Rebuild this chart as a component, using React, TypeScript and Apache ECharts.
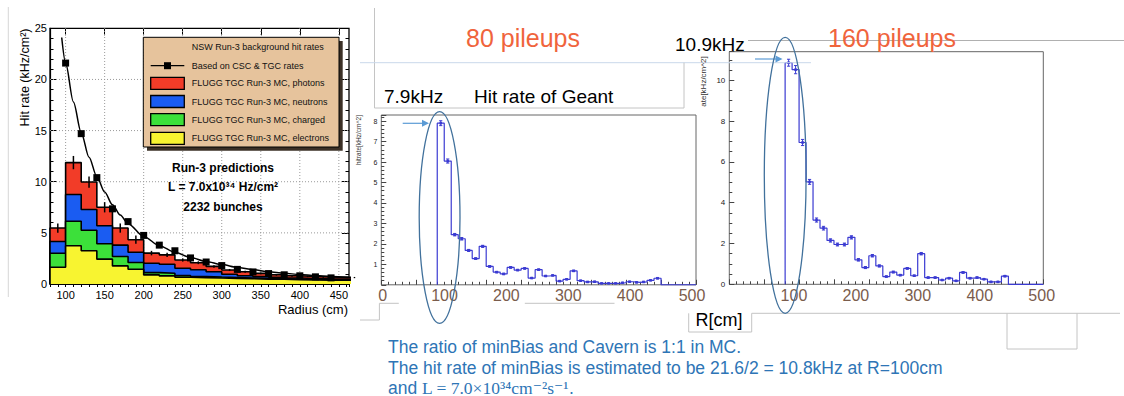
import { useEffect, useRef } from 'react';
import * as echarts from 'echarts';

const SANS = '"Liberation Sans", Arial, Helvetica, sans-serif';
const SERIF = '"Liberation Serif", "DejaVu Serif", serif';

// ---------- Left panel: NSW Run-3 background hit rates ----------
const leftBinStarts = [80, 100, 120, 140, 160, 180, 200, 220, 240, 260, 280, 300, 320, 340, 360, 380, 400, 420, 440, 460];
const leftBinWidth = 20;
const electrons = [1.64, 3.74, 3.25, 2.43, 1.77, 1.44, 0.89, 0.79, 0.66, 0.62, 0.58, 0.55, 0.52, 0.48, 0.46, 0.42, 0.40, 0.38, 0.37, 0.36];
const charged = [1.36, 2.39, 2.0, 1.5, 0.92, 0.66, 0.22, 0.26, 0.16, 0.12, 0.10, 0.08, 0.06, 0.05, 0.04, 0.04, 0.04, 0.04, 0.03, 0.03];
const neutrons = [1.16, 2.62, 2.03, 1.77, 1.11, 1.0, 0.92, 0.88, 0.72, 0.66, 0.52, 0.32, 0.22, 0.19, 0.15, 0.12, 0.10, 0.08, 0.08, 0.07];
const photons = [1.31, 3.12, 2.69, 1.8, 1.67, 1.23, 0.99, 0.92, 0.81, 0.68, 0.52, 0.42, 0.40, 0.32, 0.25, 0.22, 0.20, 0.18, 0.17, 0.17];
const totalErr = [0.45, 0.65, 0.55, 0.5, 0.45, 0.4, 0.22, 0.2, 0.16, 0.14, 0.12, 0.1, 0.1, 0.09, 0.08, 0.08, 0.07, 0.07, 0.06, 0.06];

const cscTgcR = [100, 120, 140, 160, 180, 200, 220, 240, 260, 280, 300, 320, 340, 360, 380, 400, 420, 440];
const cscTgcRate = [21.6, 14.7, 10.4, 7.35, 6.1, 4.75, 3.8, 3.25, 2.55, 2.15, 1.8, 1.43, 1.18, 1.02, 0.9, 0.8, 0.7, 0.6];
const fitR = [95, 100, 110, 120, 130, 140, 150, 160, 170, 180, 200, 220, 240, 260, 280, 300, 320, 340, 360, 380, 400, 420, 440, 463];
const fitRate = [24.1, 21.6, 17.8, 14.8, 12.4, 10.5, 9.0, 7.75, 6.75, 5.9, 4.65, 3.75, 3.1, 2.6, 2.2, 1.9, 1.62, 1.4, 1.2, 1.05, 0.93, 0.83, 0.74, 0.66];

const leftXMin = 80;
const leftXMax = 463;
const leftYMax = 25;
const leftXTicks = [100, 150, 200, 250, 300, 350, 400, 450];
const leftYGrid = [5, 10, 15, 20];

const legendTitle = 'NSW Run-3 background hit rates';
const legendLabels = [
  'Based on CSC & TGC rates',
  'FLUGG TGC Run-3 MC, photons',
  'FLUGG TGC Run-3 MC, neutrons',
  'FLUGG TGC Run-3 MC, charged',
  'FLUGG TGC Run-3 MC, electrons',
];
const layerColors = ['#f23c28', '#1a5cf2', '#3ce03a', '#f8f430'];
const predictionLines = ['Run-3 predictions', 'L = 7.0x10³⁴ Hz/cm²', '2232 bunches'];

// ---------- Geant hit rate, 10 cm bins ----------
const geantBinStarts = [80, 90, 100, 110, 120, 130, 140, 150, 160, 170, 180, 190, 200, 210, 220, 230, 240, 250, 260, 270, 280, 290, 300, 310, 320, 330, 340, 350, 360, 370, 380, 390];
const geantBinWidth = 10;
const rate80 = [7.9, 6.05, 2.45, 2.25, 1.68, 1.28, 1.88, 0.9, 0.62, 0.53, 0.85, 0.72, 0.8, 0.33, 0.74, 0.43, 0.46, 0.18, 0.27, 0.68, 0.2, 0.14, 0.15, 0.07, 0.07, 0.07, 0.1, 0.15, 0.12, 0.14, 0.22, 0.32];
const err80 = [0.12, 0.1, 0.06, 0.06, 0.05, 0.04, 0.05, 0.04, 0.03, 0.03, 0.04, 0.03, 0.03, 0.02, 0.03, 0.02, 0.02, 0.02, 0.02, 0.03, 0.02, 0.02, 0.02, 0.01, 0.01, 0.01, 0.01, 0.02, 0.02, 0.02, 0.02, 0.03];
const rate160 = [10.86, 10.52, 6.95, 5.02, 3.15, 2.75, 2.15, 1.95, 1.95, 2.3, 1.2, 0.82, 1.4, 0.9, 0.38, 0.6, 0.45, 0.78, 0.42, 1.5, 0.33, 0.33, 0.21, 0.3, 0.17, 0.58, 0.3, 0.33, 0.25, 0.12, 0.12, 0.4];
const err160 = [0.17, 0.2, 0.15, 0.12, 0.1, 0.09, 0.08, 0.07, 0.07, 0.08, 0.06, 0.05, 0.06, 0.05, 0.03, 0.04, 0.03, 0.04, 0.03, 0.06, 0.03, 0.03, 0.02, 0.03, 0.02, 0.04, 0.03, 0.03, 0.02, 0.02, 0.02, 0.03];
const geantXMax = 450;
const y80Max = 8.3;
const y160Max = 11.4;
const rLabels = [0, 100, 200, 300, 400, 500];

const noteLines = [
  'The ratio of minBias and Cavern is 1:1 in MC.',
  'The hit rate of minBias is estimated to be 21.6/2 = 10.8kHz at R=100cm',
];

const HIST_BLUE = '#3b3bd2';
const NOTE_BLUE = '#2e75b6';
const OFFICE_OUTLINE = '#41719c';
const SLIDE_GRAY = '#c4c4c4';

// step outline of a histogram given bin starts / contents
function stepPoints(starts: number[], width: number, values: number[], tailTo?: number) {
  const pts: number[][] = [[starts[0], 0]];
  starts.forEach((s, i) => pts.push([s, values[i]]));
  const end = starts[starts.length - 1] + width;
  pts.push([end, values[values.length - 1]]);
  pts.push([end, 0]);
  if (tailTo != null) pts.push([tailTo, 0]);
  return pts;
}

function errorBarRender(color: string, capHalf: number, marker: boolean, lw: number) {
  return (_p: any, api: any) => {
    const x = api.value(0);
    const y = api.value(1);
    const e = api.value(2);
    const top = api.coord([x, y + e]);
    const bot = api.coord([x, y - e]);
    const mid = api.coord([x, y]);
    const children: any[] = [
      { type: 'line', shape: { x1: top[0], y1: top[1], x2: bot[0], y2: bot[1] }, style: { stroke: color, lineWidth: lw } },
    ];
    if (capHalf > 0) {
      children.push({ type: 'line', shape: { x1: top[0] - capHalf, y1: top[1], x2: top[0] + capHalf, y2: top[1] }, style: { stroke: color, lineWidth: 1 } });
      children.push({ type: 'line', shape: { x1: bot[0] - capHalf, y1: bot[1], x2: bot[0] + capHalf, y2: bot[1] }, style: { stroke: color, lineWidth: 1 } });
    }
    if (marker) {
      children.push({ type: 'rect', shape: { x: mid[0] - 1.3, y: mid[1] - 1.3, width: 2.6, height: 2.6 }, style: { fill: color } });
    }
    return { type: 'group', children };
  };
}

function txt(x: number, y: number, text: string, o: any = {}) {
  return {
    type: 'text',
    x,
    y,
    rotation: o.rotation || 0,
    z: 60,
    style: {
      text,
      fill: o.fill || '#000',
      fontSize: o.size || 12,
      fontFamily: o.family || SANS,
      fontWeight: o.weight || 'normal',
      align: o.align || 'left',
      verticalAlign: o.va || 'middle',
      rich: o.rich,
    },
  };
}

function ln(x1: number, y1: number, x2: number, y2: number, stroke = SLIDE_GRAY, w = 1) {
  return { type: 'line', z: 55, silent: true, shape: { x1, y1, x2, y2 }, style: { stroke, lineWidth: w } };
}

function arrow(x1: number, x2: number, y: number) {
  return [
    ln(x1, y, x2 - 6, y, '#5b9bd5', 1.2),
    { type: 'polygon', z: 56, shape: { points: [[x2, y], [x2 - 7, y - 3.5], [x2 - 7, y + 3.5]] }, style: { fill: '#5b9bd5' } },
  ];
}

function buildOption() {
  // cumulative layer tops for the stacked FLUGG histogram
  const cumYellow = electrons.slice();
  const cumGreen = electrons.map((v, i) => v + charged[i]);
  const cumBlue = cumGreen.map((v, i) => v + neutrons[i]);
  const cumRed = cumBlue.map((v, i) => v + photons[i]);
  const layers = [cumRed, cumBlue, cumGreen, cumYellow];

  const leftAxisFont = { fontSize: 11, color: '#000', fontFamily: SANS };
  const blackLine = { color: '#000', width: 1 };

  const xAxis: any[] = [
    // left panel: 10 cm ticks, labels every 50
    {
      gridIndex: 0, type: 'value', position: 'bottom', min: leftXMin, max: leftXMax, interval: 10,
      axisLine: { show: true, lineStyle: { color: '#000', width: 1.2 } },
      axisTick: { inside: true, length: 3, lineStyle: blackLine },
      axisLabel: { ...leftAxisFont, margin: 5, formatter: (v: number) => (leftXTicks.includes(v) ? String(v) : '') },
      splitLine: { show: false },
    },
    {
      gridIndex: 0, type: 'value', position: 'top', min: leftXMin, max: leftXMax, interval: 10,
      axisLine: { show: false }, axisTick: { inside: true, length: 3, lineStyle: blackLine },
      axisLabel: { show: false }, splitLine: { show: false },
    },
    {
      gridIndex: 0, type: 'value', position: 'bottom', min: leftXMin, max: leftXMax,
      axisLine: { show: false }, axisTick: { inside: true, length: 7, lineStyle: blackLine, customValues: leftXTicks },
      axisLabel: { show: false }, splitLine: { show: false },
    },
    {
      gridIndex: 0, type: 'value', position: 'top', min: leftXMin, max: leftXMax,
      axisLine: { show: false }, axisTick: { inside: true, length: 7, lineStyle: blackLine, customValues: leftXTicks },
      axisLabel: { show: false }, splitLine: { show: false },
    },
    // Geant panels (ROOT axes, labels overlaid separately)
    {
      gridIndex: 1, type: 'value', min: 0, max: geantXMax, interval: 50,
      axisLine: { show: false }, axisTick: { inside: true, length: 5, lineStyle: { color: '#444' } },
      minorTick: { show: true, splitNumber: 5, length: 3, lineStyle: { color: '#444' } },
      axisLabel: { show: false }, splitLine: { show: false },
    },
    {
      gridIndex: 2, type: 'value', min: 0, max: geantXMax, interval: 50,
      axisLine: { show: false }, axisTick: { inside: true, length: 5, lineStyle: { color: '#444' } },
      minorTick: { show: true, splitNumber: 5, length: 3, lineStyle: { color: '#444' } },
      axisLabel: { show: false }, splitLine: { show: false },
    },
    {
      gridIndex: 3, type: 'value', min: 0, max: 500, interval: 100,
      axisLine: { show: false }, axisTick: { show: false }, splitLine: { show: false },
      axisLabel: { fontSize: 16, color: '#7a5c4c', fontFamily: SANS, margin: 3, formatter: (v: number) => (rLabels.includes(v) ? String(v) : '') },
    },
    {
      gridIndex: 4, type: 'value', min: 0, max: 500, interval: 100,
      axisLine: { show: false }, axisTick: { show: false }, splitLine: { show: false },
      axisLabel: { fontSize: 16, color: '#7a5c4c', fontFamily: SANS, margin: 3, formatter: (v: number) => (v > 0 && rLabels.includes(v) ? String(v) : '') },
    },
  ];

  const yAxis: any[] = [
    {
      gridIndex: 0, type: 'value', position: 'left', min: 0, max: leftYMax, interval: 5,
      axisLine: { show: true, lineStyle: { color: '#000', width: 1.2 } },
      axisTick: { inside: true, length: 7, lineStyle: blackLine },
      minorTick: { show: true, splitNumber: 5, length: 3.5, lineStyle: blackLine },
      axisLabel: { ...leftAxisFont, margin: 3 },
      splitLine: { show: false },
    },
    {
      gridIndex: 0, type: 'value', position: 'right', min: 0, max: leftYMax, interval: 5,
      axisLine: { show: false },
      axisTick: { inside: true, length: 7, lineStyle: blackLine },
      minorTick: { show: true, splitNumber: 5, length: 3.5, lineStyle: blackLine },
      axisLabel: { show: false }, splitLine: { show: false },
    },
    {
      gridIndex: 1, type: 'value', min: 0, max: y80Max, interval: 1,
      axisLine: { show: false },
      axisTick: { inside: true, length: 5, lineStyle: { color: '#444' } },
      minorTick: { show: true, splitNumber: 5, length: 3, lineStyle: { color: '#444' } },
      axisLabel: { fontSize: 7, color: '#222', fontFamily: SANS, margin: 4, formatter: (v: number) => (Number.isInteger(v) && v >= 1 && v <= 8 ? String(v) : '') },
      splitLine: { show: false },
    },
    {
      gridIndex: 2, type: 'value', min: 0, max: y160Max, interval: 2,
      axisLine: { show: false },
      axisTick: { inside: true, length: 5, lineStyle: { color: '#444' } },
      minorTick: { show: true, splitNumber: 4, length: 3, lineStyle: { color: '#444' } },
      axisLabel: { fontSize: 8, color: '#222', fontFamily: SANS, margin: 4, formatter: (v: number) => (Number.isInteger(v) && v <= 10 ? String(v) : '') },
      splitLine: { show: false },
    },
    { gridIndex: 3, type: 'value', show: false, min: 0, max: 1 },
    { gridIndex: 4, type: 'value', show: false, min: 0, max: 1 },
  ];

  const gridLineStyle = { stroke: '#9a9a9a', lineWidth: 1, lineDash: [1, 2] };
  const series: any[] = [
    {
      type: 'custom', name: 'gridX', xAxisIndex: 0, yAxisIndex: 0, z: 1, silent: true,
      data: leftXTicks.map((v) => [v, 0]),
      renderItem: (_p: any, api: any) => {
        const v = api.value(0);
        const a = api.coord([v, 0]);
        const b = api.coord([v, leftYMax]);
        return { type: 'line', shape: { x1: a[0], y1: a[1], x2: b[0], y2: b[1] }, style: gridLineStyle };
      },
    },
    {
      type: 'custom', name: 'gridY', xAxisIndex: 0, yAxisIndex: 0, z: 1, silent: true,
      data: leftYGrid.map((v) => [leftXMin, v]),
      renderItem: (_p: any, api: any) => {
        const v = api.value(1);
        const a = api.coord([leftXMin, v]);
        const b = api.coord([leftXMax, v]);
        return { type: 'line', shape: { x1: a[0], y1: a[1], x2: b[0], y2: b[1] }, style: gridLineStyle };
      },
    },
  ];

  layers.forEach((vals, i) => {
    series.push({
      type: 'line',
      name: legendLabels[i + 1],
      xAxisIndex: 0, yAxisIndex: 0,
      z: 2 + i,
      step: 'end',
      symbol: 'none',
      clip: true,
      data: stepPoints(leftBinStarts, leftBinWidth, vals),
      lineStyle: { color: '#000', width: 1.6 },
      areaStyle: { color: layerColors[i], opacity: 1 },
    });
  });

  series.push({
    type: 'custom', name: 'FLUGG total error', xAxisIndex: 0, yAxisIndex: 0, z: 7,
    data: leftBinStarts.map((s, i) => [s + leftBinWidth / 2, cumRed[i], totalErr[i]]),
    renderItem: errorBarRender('#000', 0, false, 1.5),
  });
  series.push({
    type: 'line', name: legendLabels[0] + ' fit', xAxisIndex: 0, yAxisIndex: 0, z: 8,
    data: fitR.map((r, i) => [r, fitRate[i]]),
    smooth: 0.3, smoothMonotone: 'x', symbol: 'none', clip: true,
    lineStyle: { color: '#000', width: 1.5 },
  });
  series.push({
    type: 'scatter', name: legendLabels[0], xAxisIndex: 0, yAxisIndex: 0, z: 9,
    data: cscTgcR.map((r, i) => [r, cscTgcRate[i]]),
    symbol: 'rect', symbolSize: 7,
    itemStyle: { color: '#000', opacity: 1 },
  });

  // Geant histograms
  const geantSets = [
    { name: '80 pileups', xi: 4, yi: 2, vals: rate80, errs: err80 },
    { name: '160 pileups', xi: 5, yi: 3, vals: rate160, errs: err160 },
  ];
  geantSets.forEach((g) => {
    series.push({
      type: 'line', name: g.name, xAxisIndex: g.xi, yAxisIndex: g.yi, z: 3,
      step: 'end', symbol: 'none',
      data: stepPoints(geantBinStarts, geantBinWidth, g.vals, geantXMax),
      lineStyle: { color: HIST_BLUE, width: 1.2 },
    });
    series.push({
      type: 'custom', name: g.name + ' error', xAxisIndex: g.xi, yAxisIndex: g.yi, z: 4,
      data: geantBinStarts.map((s, i) => [s + geantBinWidth / 2, g.vals[i], g.errs[i]]),
      renderItem: errorBarRender(HIST_BLUE, 1.6, true, 1),
    });
  });

  // ---------- annotations ----------
  const graphic: any[] = [];
  // slide frame fragments
  graphic.push(ln(8.3, 7, 8.3, 297, '#d6d6d6'));
  graphic.push(ln(374.5, 8, 374.5, 108));
  graphic.push(ln(360, 62.7, 811, 62.7, '#c9d8ea'));
  graphic.push(ln(374.5, 108, 684, 108));
  graphic.push(ln(684, 62.7, 684, 108));
  graphic.push(ln(748, 40.5, 1124, 40.5, '#b0b0b0'));
  graphic.push(ln(360, 320, 379.4, 320));
  graphic.push(ln(379.4, 320, 379.4, 303.3));
  graphic.push(ln(379.4, 303.3, 398.8, 303.3));
  graphic.push(ln(524.8, 303.3, 614.5, 303.3));
  graphic.push(ln(688.7, 313.3, 688.7, 332));
  graphic.push(ln(688.7, 332, 751.7, 332));
  graphic.push(ln(751.7, 313.3, 751.7, 332));
  graphic.push(ln(751.7, 313.3, 1120, 313.3));
  graphic.push(ln(1007, 313.3, 1007, 349));
  graphic.push(ln(1007, 349, 1077, 349));
  graphic.push(ln(1077, 313.3, 1077, 349));

  // left panel titles
  graphic.push(txt(25, 28.5, 'Hit rate (kHz/cm²)', { rotation: Math.PI / 2, align: 'right', size: 12.5 }));
  graphic.push(txt(348, 309, 'Radius (cm)', { align: 'right', size: 13 }));

  // legend box
  graphic.push({ type: 'rect', z: 50, shape: { x: 147, y: 41, width: 195.7, height: 109.7 }, style: { fill: '#3b3026' } });
  graphic.push({ type: 'rect', z: 51, shape: { x: 143.3, y: 37.3, width: 195.7, height: 109.7 }, style: { fill: '#e6c39c', stroke: '#000', lineWidth: 1 } });
  graphic.push(txt(191.7, 47, legendTitle, { size: 9, fill: '#111' }));
  const legendY = [65.7, 83.3, 101.5, 119.7, 138.3];
  graphic.push(ln(150.7, legendY[0], 184.3, legendY[0], '#000', 1.2));
  graphic.push({ type: 'rect', z: 58, shape: { x: 167.5 - 3.5, y: legendY[0] - 3.5, width: 7, height: 7 }, style: { fill: '#000' } });
  legendLabels.forEach((label, i) => {
    if (i > 0) {
      graphic.push({
        type: 'rect', z: 58,
        shape: { x: 150.7, y: legendY[i] - 6, width: 33.6, height: 12 },
        style: { fill: layerColors[i - 1], stroke: '#000', lineWidth: 1.3 },
      });
    }
    graphic.push(txt(191.7, legendY[i], label, { size: 9, fill: '#111' }));
  });
  const predY = [167.7, 187, 207];
  predictionLines.forEach((t, i) => graphic.push(txt(223, predY[i], t, { size: 12, weight: 'bold', align: 'center' })));

  // Geant panel titles
  graphic.push(txt(358.5, 140, 'hitrate[kHz/cm^2]', { rotation: Math.PI / 2, align: 'center', size: 6.5, fill: '#333' }));
  graphic.push(txt(703.5, 81.5, 'ate[kHz/cm^2]', { rotation: Math.PI / 2, align: 'center', size: 8, fill: '#333' }));
  graphic.push(txt(523, 37.5, '80 pileups', { size: 25, fill: '#f0643c', align: 'center' }));
  graphic.push(txt(892, 37.5, '160 pileups', { size: 25, fill: '#f0643c', align: 'center' }));
  graphic.push(txt(675, 44, '10.9kHz', { size: 19 }));
  graphic.push(txt(384, 96, '7.9kHz', { size: 19 }));
  graphic.push(txt(474, 96, 'Hit rate of Geant', { size: 19 }));
  graphic.push(txt(719, 320, 'R[cm]', { size: 18, align: 'center' }));

  // highlight ellipses and arrows
  graphic.push({ type: 'ellipse', z: 70, shape: { cx: 439.6, cy: 217.5, rx: 20.4, ry: 105.8 }, style: { fill: 'none', stroke: OFFICE_OUTLINE, lineWidth: 1.3 } });
  graphic.push({ type: 'ellipse', z: 70, shape: { cx: 785.2, cy: 175.3, rx: 20.9, ry: 138 }, style: { fill: 'none', stroke: OFFICE_OUTLINE, lineWidth: 1.3 } });
  graphic.push(...arrow(402.7, 429, 123.3));
  graphic.push(...arrow(755, 782.5, 59));

  // notes
  const noteSize = 17.5;
  graphic.push(txt(388, 346.7, noteLines[0], { size: noteSize, fill: NOTE_BLUE }));
  graphic.push(txt(388, 367.5, noteLines[1], { size: noteSize, fill: NOTE_BLUE }));
  graphic.push(txt(388, 387.5, '{s|and }{m|L = 7.0×10³⁴cm⁻²s⁻¹}{s|.}', {
    size: noteSize, fill: NOTE_BLUE,
    rich: {
      s: { fontSize: noteSize, fontFamily: SANS, fill: NOTE_BLUE, color: NOTE_BLUE },
      m: { fontSize: noteSize, fontFamily: SERIF, fill: NOTE_BLUE, color: NOTE_BLUE },
    },
  }));

  return {
    animation: false,
    backgroundColor: '#fff',
    grid: [
      { left: 50, top: 28.3, width: 299, height: 255.7, show: true, borderColor: '#000', borderWidth: 1.3, backgroundColor: 'transparent' },
      { left: 381.3, top: 115, width: 314.7, height: 169.8, show: true, borderColor: '#666', borderWidth: 1, backgroundColor: 'transparent' },
      { left: 729.3, top: 51.7, width: 314, height: 232.6, show: true, borderColor: '#666', borderWidth: 1, backgroundColor: 'transparent' },
      { left: 382.7, top: 115, width: 309.3, height: 169.8 },
      { left: 732, top: 51.7, width: 309.7, height: 232.6 },
    ],
    xAxis,
    yAxis,
    series,
    graphic,
  };
}

export default function App() {
  const ref = useRef<HTMLDivElement>(null);
  useEffect(() => {
    if (!ref.current) return;
    const chart = echarts.init(ref.current, null, { renderer: 'svg' });
    chart.setOption(buildOption() as any);
    return () => chart.dispose();
  }, []);
  return (
    <div
      ref={ref}
      style={{ position: 'fixed', left: 0, top: 0, width: 1124, height: 396, background: '#fff' }}
    />
  );
}
